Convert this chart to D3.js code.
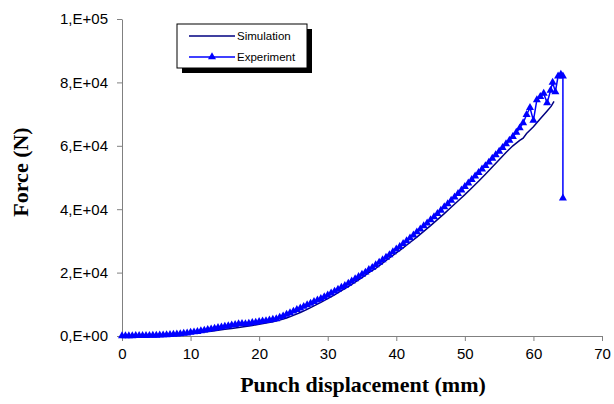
<!DOCTYPE html>
<html>
<head>
<meta charset="utf-8">
<script src="https://cdn.jsdelivr.net/npm/d3@7"></script>
<style>
  body { margin: 0; background: #fff; }
  svg { display: block; }
</style>
</head>
<body>
<div id="chart"></div>
<script>
// data (mm, N)
const simX = [0,1,2,3,4,5,6,7,8,9,10,11,12,13,14,15,16,17,18,19,20,21,22,23,24,25,26,27,28,29,30,31,32,33,34,35,36,37,38,39,40,41,42,43,44,45,46,47,48,49,50,51,52,53,54,55,56,57,58,58.5,59,60,61,62,62.6,63];
const simF = [0,20,50,90,140,200,280,370,480,620,800,1000,1250,1500,1800,2100,2400,2700,3000,3300,3700,4100,4500,5000,5700,6500,7400,8400,9500,10600,11800,13000,14300,15600,17000,18400,20000,21300,23000,24600,26200,27800,29500,31200,33000,34800,36700,38600,40600,42600,44600,46700,48800,51000,53300,55600,57900,60000,61700,62400,63900,66000,68500,71000,72500,74000];

const expX = [0,0.5,1,1.5,2,2.5,3,3.5,4,4.5,5,5.5,6,6.5,7,7.5,8,8.5,9,9.5,10,10.5,11,11.5,12,12.5,13,13.5,14,14.5,15,15.5,16,16.5,17,17.5,18,18.5,19,19.5,20,20.5,21,21.5,22,22.5,23,23.5,24,24.5,25,25.5,26,26.5,27,27.5,28,28.5,29,29.5,30,30.5,31,31.5,32,32.5,33,33.5,34,34.5,35,35.5,36,36.5,37,37.5,38,38.5,39,39.5,40,40.5,41,41.5,42,42.5,43,43.5,44,44.5,45,45.5,46,46.5,47,47.5,48,48.5,49,49.5,50,50.5,51,51.5,52,52.5,53,53.5,54,54.5,55,55.5,56,56.5,57,57.5,58,58.5,59,59.5,60,60.5,61,61.5,62,62.5,62.8,63.2,63.6,64,64.3,64.3];
const expF = [0,0,50,50,80,100,100,120,150,180,200,250,300,350,400,480,550,650,800,900,1100,1250,1400,1600,1800,2000,2200,2400,2600,2800,3000,3200,3400,3600,3800,3900,3800,4000,4200,4300,4500,4700,4800,5000,5200,5400,5900,6300,6800,7300,7800,8300,8800,9300,9800,10300,10800,11300,11800,12300,12900,13500,14100,14700,15300,15900,16600,17300,18000,18700,19400,20100,20900,21600,22400,23200,24000,24800,25600,26500,27400,28200,29100,30000,30900,31800,32800,33700,34700,35600,36600,37600,38600,39600,40700,41700,42800,43800,44900,46000,47100,48200,49300,50400,51500,52600,53700,54800,56000,57100,58200,59400,60600,61700,62900,64200,65600,67200,69800,72000,68000,74500,75500,76500,73500,77500,80000,77000,82000,82500,82000,43500];

const xTicks = [0,10,20,30,40,50,60,70];
const yTicks = [0,20000,40000,60000,80000,100000];
const yTickLabels = ["0,E+00","2,E+04","4,E+04","6,E+04","8,E+04","1,E+05"];
const seriesNames = ["Simulation","Experiment"];

const W = 614, H = 404;
const margin = {top: 19, right: 12, bottom: 68, left: 122};
const width = W - margin.left - margin.right,
      height = H - margin.top - margin.bottom;

const svg = d3.select("#chart").append("svg")
    .attr("width", W).attr("height", H);
const g = svg.append("g")
    .attr("transform", `translate(${margin.left},${margin.top})`);

const x = d3.scaleLinear().domain([0, 70]).range([0, width]);
const y = d3.scaleLinear().domain([0, 100000]).range([height, 0]);

// axes
const xAxis = g.append("g")
    .attr("transform", `translate(0,${height})`)
    .call(d3.axisBottom(x).tickValues(xTicks).tickSize(5).tickSizeOuter(0));
const yAxis = g.append("g")
    .call(d3.axisLeft(y).tickValues(yTicks).tickSize(5).tickSizeOuter(0)
        .tickFormat((d, i) => yTickLabels[i]));
[xAxis, yAxis].forEach(a => {
    a.select(".domain").attr("stroke", "#808080");
    a.selectAll(".tick line").attr("stroke", "#808080");
    a.selectAll("text")
        .style("font-family", "'Liberation Sans', Arial, sans-serif")
        .style("font-size", "15px").attr("fill", "#000");
});
xAxis.selectAll("text").attr("dy", "1.0em");
yAxis.selectAll("text").attr("x", -14);

const simData = simX.map((d, i) => [d, simF[i]]);
const expData = expX.map((d, i) => [d, expF[i]]);
const line = d3.line().x(d => x(d[0])).y(d => y(d[1]));

g.append("path").datum(simData)
    .attr("fill", "none").attr("stroke", "#000080").attr("stroke-width", 1.5)
    .attr("d", line);

g.append("path").datum(expData)
    .attr("fill", "none").attr("stroke", "#0000ff").attr("stroke-width", 1.5)
    .attr("d", line);

const tri = d3.symbol().type(d3.symbolTriangle).size(28);
g.append("g").selectAll("path")
    .data(expData)
    .join("path")
    .attr("transform", d => `translate(${x(d[0])},${y(d[1])})`)
    .attr("d", tri)
    .attr("fill", "#0000ff");

// axis titles
svg.append("text")
    .attr("x", margin.left + width / 2 + 1).attr("y", 392)
    .attr("text-anchor", "middle")
    .style("font-family", "'Liberation Serif', 'Times New Roman', serif")
    .style("font-size", "22px").style("font-weight", "bold")
    .text("Punch displacement (mm)");
svg.append("text")
    .attr("transform", "translate(28,172) rotate(-90)")
    .attr("text-anchor", "middle")
    .style("font-family", "'Liberation Serif', 'Times New Roman', serif")
    .style("font-size", "22px").style("font-weight", "bold")
    .text("Force (N)");

// legend
const lg = svg.append("g").attr("transform", "translate(177,24)");
lg.append("rect").attr("x", 5).attr("y", 5).attr("width", 130).attr("height", 44).attr("fill", "#000");
lg.append("rect").attr("x", 0).attr("y", 0).attr("width", 130).attr("height", 44)
    .attr("fill", "#fff").attr("stroke", "#000").attr("stroke-width", 1);
seriesNames.forEach((name, i) => {
    const yy = 12 + i * 21;
    lg.append("line").attr("x1", 12).attr("x2", 58).attr("y1", yy).attr("y2", yy)
        .attr("stroke", i === 0 ? "#000080" : "#0000ff").attr("stroke-width", 1.5);
    if (i === 1) {
        lg.append("path").attr("transform", `translate(35,${yy})`).attr("d", tri).attr("fill", "#0000ff");
    }
    lg.append("text").attr("x", 60).attr("y", yy + 4)
        .style("font-family", "'Liberation Sans', Arial, sans-serif")
        .style("font-size", "11.5px")
        .text(name);
});
</script>
</body>
</html>
